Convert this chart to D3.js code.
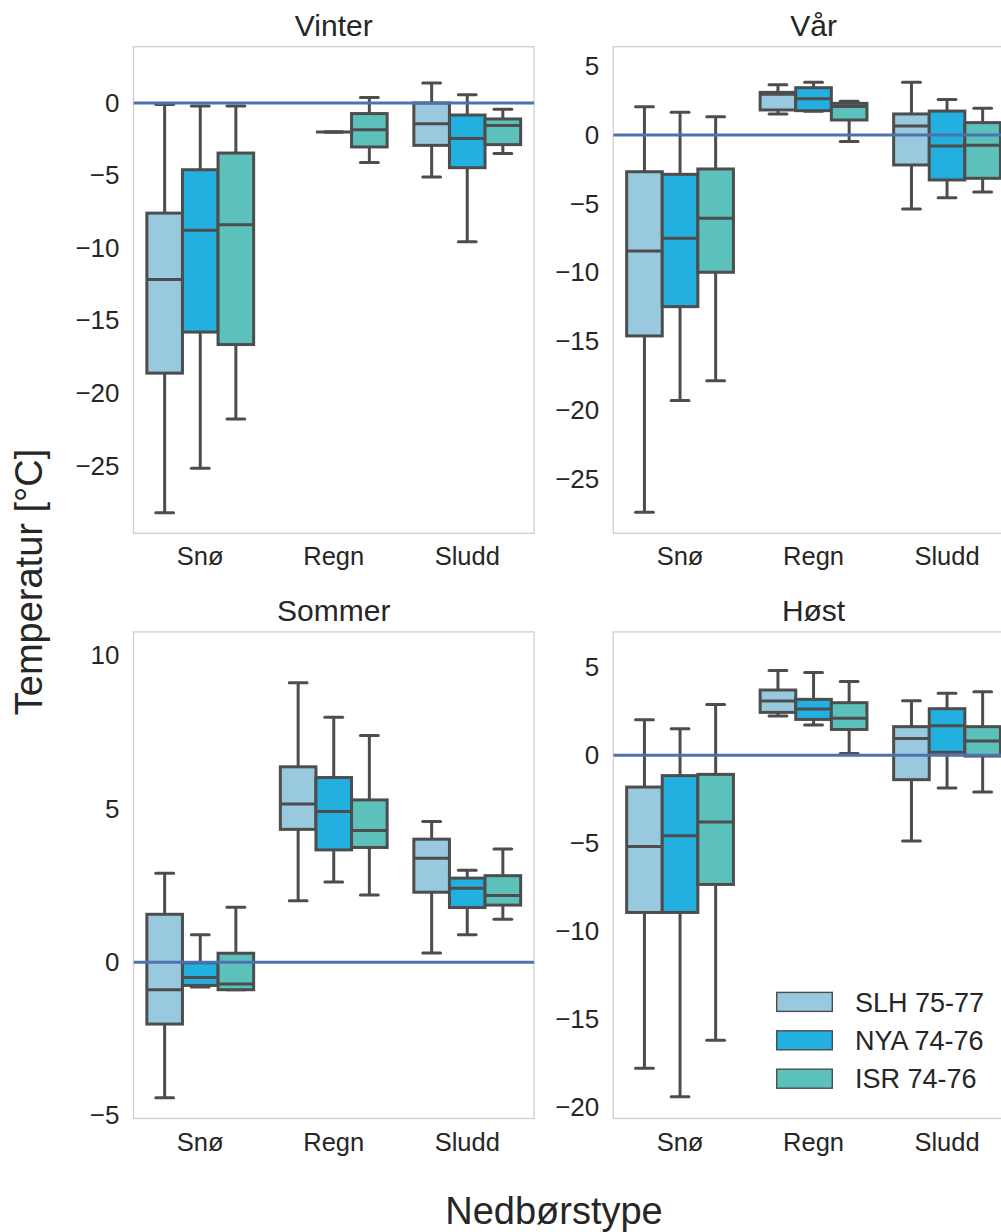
<!DOCTYPE html>
<html>
<head>
<meta charset="utf-8">
<script src="https://cdn.jsdelivr.net/npm/d3@7"></script>
<style>
  html, body { margin: 0; padding: 0; background: #fff; }
  svg { display: block; font-family: "Liberation Sans", Arial, sans-serif; }
</style>
</head>
<body>
<svg id="chart" width="1001" height="1232"></svg>
<script>
// ---------- data ----------
const seasons = ["Vinter", "Vår", "Sommer", "Høst"];
const categories = ["Snø", "Regn", "Sludd"];
const stations = ["SLH 75-77", "NYA 74-76", "ISR 74-76"];
const stationColors = ["#98c9de", "#22b0e0", "#5bc1ba"];

// each entry: [whiskerLow, q1, median, q3, whiskerHigh] for Snø, Regn, Sludd
const vinterSLH = [[-28.25, -18.62, -12.16, -7.59, -0.11], null, [-5.1, -2.92, -1.43, 0.0, 1.38]];
const vinterNYA = [[-25.17, -15.79, -8.78, -4.6, -0.21], [-2.0, -2.0, -2.0, -2.0, -2.0], [-9.56, -4.46, -2.44, -0.83, 0.57]];
const vinterISR = [[-21.79, -16.65, -8.39, -3.45, -0.2], [-4.11, -3.03, -1.84, -0.73, 0.37], [-3.49, -2.87, -1.56, -1.1, -0.44]];

const vaarSLH = [[-27.43, -14.61, -8.43, -2.67, 2.06], [1.53, 1.82, 2.96, 3.1, 3.66], [-5.38, -2.18, 0.65, 1.53, 3.83]];
const vaarNYA = [[-19.31, -12.48, -7.51, -2.86, 1.65], [1.72, 1.77, 2.64, 3.44, 3.83], [-4.56, -3.27, -0.8, 1.74, 2.59]];
const vaarISR = [[-17.86, -9.98, -6.06, -2.47, 1.33], [-0.48, 1.09, 2.08, 2.30, 2.45], [-4.14, -3.15, -0.75, 0.9, 1.94]];

const sommerSLH = [[-4.42, -2.02, -0.9, 1.56, 2.9], [2.0, 4.33, 5.16, 6.37, 9.11], [0.3, 2.28, 3.39, 4.01, 4.59]];
const sommerNYA = [[-0.81, -0.76, -0.5, -0.02, 0.89], [2.61, 3.66, 4.91, 6.02, 7.99], [0.89, 1.78, 2.41, 2.74, 3.0]];
const sommerISR = [[-0.9, -0.9, -0.71, 0.29, 1.79], [2.19, 3.74, 4.29, 5.29, 7.39], [1.4, 1.86, 2.17, 2.82, 3.69]];

const hoestSLH = [[-17.77, -8.92, -5.18, -1.8, 2.02], [2.23, 2.44, 3.08, 3.71, 4.82], [-4.86, -1.38, 0.95, 1.63, 3.1]];
const hoestNYA = [[-19.38, -8.92, -4.56, -1.15, 1.51], [1.72, 2.04, 2.63, 3.18, 4.71], [-1.85, 0.17, 1.68, 2.65, 3.52]];
const hoestISR = [[-16.18, -7.33, -3.78, -1.08, 2.89], [0.11, 1.47, 2.10, 2.99, 4.20], [-2.08, -0.04, 0.81, 1.63, 3.61]];

const seasonStats = [
  [vinterSLH, vinterNYA, vinterISR],
  [vaarSLH, vaarNYA, vaarISR],
  [sommerSLH, sommerNYA, sommerISR],
  [hoestSLH, hoestNYA, hoestISR]
];

// y-axis limits and tick labels per panel
const vinterYLim = [-29.66, 3.88];
const vaarYLim = [-28.96, 6.42];
const sommerYLim = [-5.10, 10.77];
const hoestYLim = [-20.62, 7.01];
const yLims = [vinterYLim, vaarYLim, sommerYLim, hoestYLim];

const vinterTicks = [0, -5, -10, -15, -20, -25];
const vaarTicks = [5, 0, -5, -10, -15, -20, -25];
const sommerTicks = [10, 5, 0, -5];
const hoestTicks = [5, 0, -5, -10, -15, -20];
const yTicks = [vinterTicks, vaarTicks, sommerTicks, hoestTicks];

const referenceLine = 0;

// ---------- layout ----------
const svg = d3.select("#chart");
const panelW = 400.5, panelH = 486.6;
const panelX = [133.5, 613.3];
const panelY = [46.7, 631.9];
const boxLine = "#4d4d4d";
const lw = 3;
const fmt = d3.format("");

seasons.forEach((season, si) => {
  const col = si % 2, row = Math.floor(si / 2);
  const x0 = panelX[col], y0 = panelY[row];
  const g = svg.append("g").attr("transform", `translate(${x0},${y0})`);

  const x = d3.scaleBand().domain(categories).range([0, panelW]).padding(0);
  const y = d3.scaleLinear().domain(yLims[si]).range([panelH, 0]);
  const boxW = x.bandwidth() * 0.8 / stations.length;

  // frame
  g.append("rect").attr("x", 0).attr("y", 0).attr("width", panelW).attr("height", panelH)
    .attr("fill", "none").attr("stroke", "#cfcfcf").attr("stroke-width", 1.3);

  // y axis
  const yAxis = d3.axisLeft(y).tickValues(yTicks[si]).tickSize(0).tickPadding(14).tickFormat(fmt);
  const ya = g.append("g").call(yAxis);
  ya.select(".domain").remove();
  ya.selectAll("text").attr("font-size", 26).attr("fill", "#262626")
    .attr("font-family", "'Liberation Sans', Arial, sans-serif");

  // x axis
  const xAxis = d3.axisBottom(x).tickSize(0).tickPadding(14);
  const xa = g.append("g").attr("transform", `translate(0,${panelH})`).call(xAxis);
  xa.select(".domain").remove();
  xa.selectAll("text").attr("font-size", 25.5).attr("fill", "#262626")
    .attr("font-family", "'Liberation Sans', Arial, sans-serif");

  // title
  g.append("text").attr("x", panelW / 2).attr("y", -10.7).attr("text-anchor", "middle")
    .attr("font-size", 30).attr("fill", "#262626").text(season);

  // boxes
  const clip = "clip" + si;
  g.append("clipPath").attr("id", clip).append("rect").attr("width", panelW).attr("height", panelH);
  const plot = g.append("g").attr("clip-path", `url(#${clip})`);

  stations.forEach((st, k) => {
    const stats = seasonStats[si][k];
    categories.forEach((cat, ci) => {
      const s = stats[ci];
      if (!s) return;
      const [wLo, q1, med, q3, wHi] = s;
      const cx = x(cat) + x.bandwidth() / 2 + (k - 1) * boxW;
      const bg = plot.append("g");
      // whiskers
      bg.append("line").attr("x1", cx).attr("x2", cx).attr("y1", y(q3)).attr("y2", y(wHi))
        .attr("stroke", boxLine).attr("stroke-width", lw);
      bg.append("line").attr("x1", cx).attr("x2", cx).attr("y1", y(q1)).attr("y2", y(wLo))
        .attr("stroke", boxLine).attr("stroke-width", lw);
      // caps
      [wHi, wLo].forEach(v => {
        bg.append("line").attr("x1", cx - boxW / 4).attr("x2", cx + boxW / 4)
          .attr("y1", y(v)).attr("y2", y(v))
          .attr("stroke", boxLine).attr("stroke-width", lw).attr("stroke-linecap", "round");
      });
      // box
      bg.append("rect").attr("x", cx - boxW / 2).attr("width", boxW)
        .attr("y", y(q3)).attr("height", Math.max(0, y(q1) - y(q3)))
        .attr("fill", stationColors[k]).attr("stroke", boxLine).attr("stroke-width", lw);
      // median
      bg.append("line").attr("x1", cx - boxW / 2).attr("x2", cx + boxW / 2)
        .attr("y1", y(med)).attr("y2", y(med))
        .attr("stroke", boxLine).attr("stroke-width", lw);
    });
  });

  // reference line at 0
  plot.append("line").attr("x1", 0).attr("x2", panelW)
    .attr("y1", y(referenceLine)).attr("y2", y(referenceLine))
    .attr("stroke", "#4c72b0").attr("stroke-width", 3);

  // legend in the last panel
  if (si === 3) {
    const lg = g.append("g");
    stations.forEach((st, k) => {
      const cy = 370 + k * 38.4;
      lg.append("rect").attr("x", 163.4).attr("y", cy - 9.5).attr("width", 55.6).attr("height", 19)
        .attr("fill", stationColors[k]).attr("stroke", boxLine).attr("stroke-width", 1.4);
      lg.append("text").attr("x", 241.7).attr("y", cy).attr("dy", "0.36em")
        .attr("font-size", 27).attr("fill", "#262626").text(st);
    });
  }
});

// shared axis labels
svg.append("text").attr("transform", "translate(42,582) rotate(-90)")
  .attr("text-anchor", "middle").attr("font-size", 38).attr("fill", "#262626")
  .text("Temperatur [°C]");
svg.append("text").attr("x", 554).attr("y", 1224)
  .attr("text-anchor", "middle").attr("font-size", 38).attr("fill", "#262626")
  .text("Nedbørstype");
</script>
</body>
</html>
